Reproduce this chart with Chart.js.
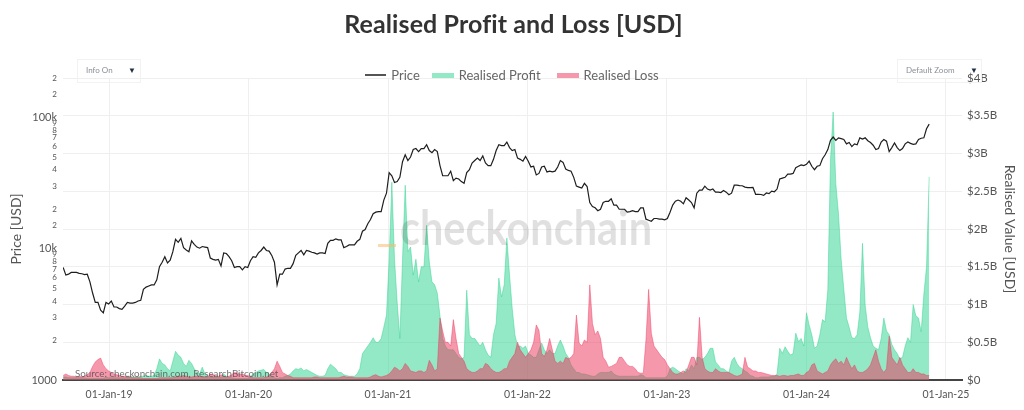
<!DOCTYPE html>
<html>
<head>
<meta charset="utf-8">
<script src="https://cdn.jsdelivr.net/npm/chart.js@4.4.1/dist/chart.umd.min.js"></script>
<style>
  html,body{margin:0;padding:0;background:#fff;}
  #wrap{position:relative;width:1024px;height:410px;overflow:hidden;font-family:Lato,"Open Sans",sans-serif;}
  #title{position:absolute;left:0;top:8px;width:1027px;text-align:center;font-weight:700;font-size:25px;color:#333;letter-spacing:0.1px;}
  #legend{position:absolute;top:67px;left:0;width:1024px;display:flex;justify-content:center;align-items:center;font-size:13px;color:#666;}
  #legend .it{display:flex;align-items:center;margin:0 6px;}
  #legend .ln{width:21px;height:2px;background:#555;margin-right:5px;}
  #legend .bx{width:22px;height:5px;margin-right:5px;}
  .dd{position:absolute;top:59px;height:22px;border:1px solid #f2f2f2;font-size:8px;color:#8a8f98;line-height:20px;}
  .dd span.a{position:absolute;color:#1f2d45;font-size:8px;}
  canvas{position:absolute;left:0;top:0;}
</style>
</head>
<body>
<div id="wrap">
  <canvas id="c" width="1024" height="410"></canvas>
  <div id="title">Realised Profit and Loss [USD]</div>
  <div id="legend">
    <div class="it"><div class="ln"></div>Price</div>
    <div class="it"><div class="bx" style="background:rgba(40,210,140,0.5)"></div>Realised Profit</div>
    <div class="it" style="margin-left:10px"><div class="bx" style="background:rgba(238,50,90,0.5)"></div>Realised Loss</div>
  </div>
  <div class="dd" style="left:77px;width:62px;"><span style="position:absolute;left:8px;">Info On</span><span class="a" style="left:50px;">&#9660;</span></div>
  <div class="dd" style="left:897px;width:83px;"><span style="position:absolute;left:8px;">Default Zoom</span><span class="a" style="left:72px;">&#9660;</span></div>
</div>
<script>
// Weekly observations (Mondays) starting at this date
const START_DATE = '2018-09-03';
const STEP_DAYS = 7;

// BTC price [USD], one row per month
const PRICE = [
  // 2018 Sep-Dec
  7200, 6300, 6400, 6600,
  6600, 6600, 6500, 6450, 6350,
  6400, 5600, 4600, 3900,
  3900, 3400, 3250, 3900, 3800,
  // 2019
  4000, 3600, 3600, 3500,
  3450, 3650, 3900, 3850,
  3850, 3900, 4000, 4050,
  4900, 5100, 5200, 5300, 5300,
  5800, 7300, 7900, 8700,
  7800, 8200, 9500, 11800,
  11200, 12000, 10200, 9800, 9500,
  11500, 10800, 10300, 10100,
  10400, 10300, 10200, 8500, 8300,
  8200, 8300, 7400, 9300,
  9200, 8700, 8100, 7200,
  7300, 7300, 6900, 7300, 7200,
  // 2020
  8100, 8700, 8600, 9300,
  9700, 10300, 9700, 9600,
  8900, 7900, 5300, 6400, 6400,
  7000, 7100, 7100, 7700,
  8900, 9300, 9700, 9000,
  9700, 9600, 9400, 9300, 9100,
  9300, 9300, 9200, 11000,
  11600, 11600, 11900, 11700, 11700,
  10200, 10400, 10700, 10700,
  10700, 11400, 11800, 13600,
  14000, 15500, 16700, 18500, 19000,
  19200, 19200, 23500, 26500,
  // 2021
  38000, 36000, 32000, 32500,
  35000, 46000, 52000, 47000,
  50000, 57000, 58000, 55000, 58000,
  58000, 62000, 56000, 54000,
  57000, 55000, 43000, 36000, 36000,
  36000, 39000, 33000, 34500,
  34000, 32500, 31500, 38000,
  40000, 45000, 47000, 49000, 47000,
  51000, 45000, 43000, 43000,
  48000, 56000, 62000, 61000,
  61000, 65000, 59000, 56000, 57000,
  49000, 48000, 46500, 50500,
  // 2022
  46500, 42000, 42500, 36500, 37500,
  42000, 42500, 38500, 39000,
  38500, 39000, 42000, 47000,
  45500, 40500, 39500, 39000,
  35000, 30000, 29500, 29000, 31500,
  29800, 22500, 21000, 20500,
  19500, 20000, 22500, 23000,
  23000, 24000, 21500, 21500, 20000,
  20000, 20000, 19000, 19200,
  19500, 19200, 19200, 20500, 20500,
  16800, 16500, 16200, 17000,
  17000, 16800, 16800, 16600,
  // 2023
  17000, 19000, 21500, 23000, 23500,
  23000, 22000, 24500, 23500,
  22500, 20500, 26500, 28000,
  28000, 30000, 28500, 28000,
  28500, 27000, 27000, 26800, 27800,
  27000, 25800, 26500, 30500,
  30500, 30300, 30200, 29500, 29200,
  29200, 29300, 26000, 26000,
  25900, 25500, 26600, 26300,
  27500, 27200, 28500, 34000, 34500,
  35000, 37000, 37000, 37500,
  41500, 42500, 43500, 43000,
  // 2024
  44000, 46500, 42500, 40000, 42500,
  43000, 48500, 52000, 57000,
  67000, 71000, 67000, 70000,
  69000, 68000, 63000, 64500, 60000,
  63000, 62000, 70000, 68500,
  70000, 66500, 64500, 61500,
  57000, 58000, 65000, 68000, 66000,
  55000, 59000, 64000, 59000,
  56000, 58000, 63000, 65000, 63500,
  62500, 63000, 68000, 69500,
  70000, 82000, 89000
];

// Realised Profit [billion USD]
const PROFIT_B = [
  // 2018 Sep-Dec
  0.04, 0.04, 0.03, 0.03,
  0.03, 0.03, 0.03, 0.03, 0.03,
  0.02, 0.02, 0.02, 0.02,
  0.02, 0.02, 0.02, 0.04, 0.03,
  // 2019
  0.03, 0.03, 0.03, 0.03,
  0.03, 0.03, 0.05, 0.05,
  0.04, 0.04, 0.04, 0.05,
  0.05, 0.06, 0.05, 0.05, 0.06,
  0.15, 0.28, 0.22, 0.20,
  0.15, 0.12, 0.25, 0.38,
  0.33, 0.30, 0.22, 0.18, 0.26,
  0.22, 0.15, 0.10, 0.08,
  0.17, 0.08, 0.05, 0.04, 0.04,
  0.04, 0.04, 0.03, 0.08,
  0.05, 0.04, 0.03, 0.02,
  0.02, 0.02, 0.02, 0.02, 0.02,
  // 2020
  0.05, 0.08, 0.10, 0.12,
  0.13, 0.14, 0.10, 0.08,
  0.04, 0.03, 0.02, 0.03, 0.03,
  0.05, 0.06, 0.08, 0.12,
  0.15, 0.14, 0.16, 0.12,
  0.14, 0.12, 0.10, 0.08, 0.06,
  0.05, 0.05, 0.06, 0.15,
  0.21, 0.18, 0.15, 0.10, 0.10,
  0.07, 0.06, 0.05, 0.05,
  0.05, 0.08, 0.15, 0.35,
  0.40, 0.45, 0.50, 0.56, 0.50,
  0.50, 0.55, 0.70, 0.86,
  // 2021
  1.60, 2.62, 1.60, 1.03,
  0.55, 1.60, 2.58, 1.70,
  1.76, 1.39, 1.60, 1.30, 1.50,
  1.50, 2.05, 1.57, 1.30,
  1.26, 1.15, 0.85, 0.55, 0.45,
  0.40, 0.40, 0.40, 0.35,
  0.30, 0.28, 0.30, 1.19,
  0.60, 0.55, 0.55, 0.50, 0.45,
  0.50, 0.40, 0.33, 0.30,
  0.60, 0.75, 1.35, 1.10,
  1.26, 1.88, 1.39, 0.95, 0.60,
  0.45, 0.45, 0.42, 0.45,
  // 2022
  0.35, 0.33, 0.30, 0.30, 0.40,
  0.49, 0.40, 0.35, 0.40,
  0.35, 0.35, 0.45, 0.53,
  0.45, 0.35, 0.30, 0.20,
  0.15, 0.10, 0.10, 0.08, 0.08,
  0.07, 0.06, 0.05, 0.05,
  0.08, 0.10, 0.10, 0.10,
  0.10, 0.12, 0.08, 0.06, 0.05,
  0.05, 0.05, 0.05, 0.05,
  0.05, 0.05, 0.05, 0.07, 0.06,
  0.03, 0.03, 0.03, 0.03,
  0.03, 0.03, 0.03, 0.03,
  // 2023
  0.05, 0.15, 0.17, 0.15, 0.12,
  0.10, 0.08, 0.15, 0.12,
  0.20, 0.15, 0.30, 0.30,
  0.27, 0.30, 0.35, 0.42,
  0.42, 0.24, 0.20, 0.15, 0.15,
  0.12, 0.10, 0.25, 0.30,
  0.22, 0.17, 0.15, 0.12, 0.10,
  0.06, 0.05, 0.03, 0.03,
  0.04, 0.04, 0.04, 0.04,
  0.05, 0.05, 0.08, 0.42, 0.35,
  0.44, 0.38, 0.33, 0.35,
  0.62, 0.51, 0.55, 0.45,
  // 2024
  0.89, 0.73, 0.60, 0.42, 0.45,
  0.60, 0.80, 0.77, 1.20,
  2.91, 3.55, 2.60, 2.20,
  1.60, 1.20, 0.82, 0.70, 0.56,
  0.55, 0.60, 0.90, 1.81,
  0.99, 0.70, 0.56, 0.45,
  0.42, 0.40, 0.55, 0.82, 0.65,
  0.60, 0.47, 0.40, 0.35,
  0.28, 0.30, 0.45, 0.56, 0.50,
  1.00, 0.85, 0.82, 0.64,
  1.14, 1.50, 2.69
];

// Realised Loss [billion USD]
const LOSS_B = [
  // 2018 Sep-Dec
  0.06, 0.08, 0.06, 0.05,
  0.05, 0.04, 0.05, 0.04, 0.05,
  0.07, 0.10, 0.18, 0.24,
  0.27, 0.29, 0.20, 0.15, 0.12,
  // 2019
  0.10, 0.08, 0.07, 0.06,
  0.05, 0.05, 0.04, 0.04,
  0.03, 0.03, 0.03, 0.03,
  0.02, 0.02, 0.02, 0.02, 0.02,
  0.02, 0.03, 0.03, 0.03,
  0.03, 0.03, 0.03, 0.04,
  0.05, 0.05, 0.06, 0.05, 0.04,
  0.04, 0.05, 0.05, 0.05,
  0.04, 0.04, 0.04, 0.08, 0.07,
  0.06, 0.05, 0.07, 0.05,
  0.04, 0.05, 0.07, 0.10,
  0.09, 0.08, 0.08, 0.06, 0.06,
  // 2020
  0.04, 0.03, 0.03, 0.03,
  0.03, 0.03, 0.04, 0.06,
  0.10, 0.15, 0.25, 0.18, 0.10,
  0.08, 0.06, 0.05, 0.03,
  0.03, 0.03, 0.03, 0.03,
  0.03, 0.03, 0.03, 0.04, 0.04,
  0.03, 0.03, 0.03, 0.03,
  0.03, 0.03, 0.03, 0.03, 0.04,
  0.05, 0.04, 0.04, 0.04,
  0.03, 0.03, 0.03, 0.03,
  0.03, 0.03, 0.04, 0.06, 0.07,
  0.05, 0.04, 0.05, 0.06,
  // 2021
  0.08, 0.12, 0.17, 0.15,
  0.12, 0.15, 0.22, 0.18,
  0.12, 0.11, 0.10, 0.12, 0.12,
  0.10, 0.12, 0.26, 0.20,
  0.12, 0.15, 0.82, 0.65, 0.50,
  0.50, 0.45, 0.80, 0.55,
  0.35, 0.30, 0.25, 0.15,
  0.12, 0.10, 0.10, 0.12, 0.15,
  0.15, 0.22, 0.20, 0.15,
  0.12, 0.10, 0.10, 0.12,
  0.15, 0.15, 0.25, 0.30, 0.35,
  0.50, 0.40, 0.35, 0.30,
  // 2022
  0.35, 0.40, 0.50, 0.73, 0.66,
  0.35, 0.31, 0.40, 0.55,
  0.40, 0.25, 0.22, 0.25,
  0.22, 0.30, 0.28, 0.30,
  0.35, 0.86, 0.49, 0.45, 0.53,
  0.50, 1.26, 0.75, 0.60,
  0.65, 0.55, 0.30, 0.25,
  0.17, 0.18, 0.20, 0.22, 0.30,
  0.30, 0.25, 0.20, 0.18,
  0.18, 0.15, 0.10, 0.09, 0.09,
  0.53, 1.20, 0.62, 0.45,
  0.40, 0.35, 0.30, 0.27,
  // 2023
  0.20, 0.15, 0.10, 0.08, 0.08,
  0.10, 0.12, 0.10, 0.20,
  0.30, 0.30, 0.20, 0.83,
  0.30, 0.15, 0.12, 0.10,
  0.10, 0.15, 0.12, 0.10, 0.10,
  0.10, 0.10, 0.08, 0.06,
  0.05, 0.06, 0.08, 0.30, 0.17,
  0.15, 0.12, 0.12, 0.10,
  0.10, 0.09, 0.08, 0.07,
  0.06, 0.06, 0.06, 0.05, 0.06,
  0.06, 0.05, 0.06, 0.06,
  0.07, 0.08, 0.06, 0.06,
  // 2024
  0.10, 0.12, 0.20, 0.22, 0.12,
  0.10, 0.08, 0.10, 0.12,
  0.20, 0.25, 0.28, 0.22,
  0.25, 0.20, 0.30, 0.22, 0.15,
  0.20, 0.12, 0.10, 0.10,
  0.12, 0.15, 0.20, 0.30,
  0.40, 0.25, 0.15, 0.10, 0.15,
  0.58, 0.30, 0.25, 0.20,
  0.30, 0.20, 0.15, 0.10, 0.10,
  0.15, 0.10, 0.10, 0.08,
  0.08, 0.06, 0.06
];

const X_TICKS = [2019, 2020, 2021, 2022, 2023, 2024, 2025];
const X_MIN = 2018.670, X_MAX = 2025.115;

function decimalYear(d) {
  const y = d.getUTCFullYear();
  const a = Date.UTC(y, 0, 1), b = Date.UTC(y + 1, 0, 1);
  return y + (d.getTime() - a) / (b - a);
}
const t0 = new Date(START_DATE + 'T00:00:00Z').getTime();
const xs = PRICE.map((_, i) => decimalYear(new Date(t0 + i * STEP_DAYS * 86400000)));

const FONT = 'Lato, "Open Sans", sans-serif';

const watermark = {
  id: 'watermark',
  afterDatasetsDraw(chart) {
    const ctx = chart.ctx;
    ctx.save();
    ctx.font = 'bold 48px ' + FONT;
    const w = ctx.measureText('checkonchain').width;
    ctx.translate(400, 245);
    ctx.scale(252 / w, 1);
    ctx.fillStyle = 'rgba(0,0,0,0.12)';
    ctx.textBaseline = 'alphabetic';
    ctx.fillText('checkonchain', 0, 0);
    ctx.restore();
    ctx.save();
    ctx.fillStyle = 'rgba(250,185,110,0.55)';
    ctx.fillRect(378, 244, 18, 3);
    ctx.font = '9.8px ' + FONT;
    ctx.fillStyle = 'rgba(70,70,70,0.75)';
    ctx.fillText('Source: checkonchain.com, ResearchBitcoin.net', 75, 377);
    ctx.restore();
  }
};

new Chart(document.getElementById('c'), {
  type: 'line',
  data: {
    datasets: [
      {
        label: 'Price',
        data: xs.map((x, i) => ({ x, y: PRICE[i] })),
        yAxisID: 'y', borderColor: '#1e1e1e', borderWidth: 1.2,
        pointRadius: 0, fill: false, tension: 0, order: 1
      },
      {
        label: 'Realised Loss',
        data: xs.map((x, i) => ({ x, y: LOSS_B[i] * 1e9 })),
        yAxisID: 'y1', borderColor: 'rgba(238,50,90,0.55)', borderWidth: 0.8,
        backgroundColor: 'rgba(238,50,90,0.5)', pointRadius: 0, fill: 'origin', tension: 0, order: 2
      },
      {
        label: 'Realised Profit',
        data: xs.map((x, i) => ({ x, y: PROFIT_B[i] * 1e9 })),
        yAxisID: 'y1', borderColor: 'rgba(40,210,140,0.55)', borderWidth: 0.8,
        backgroundColor: 'rgba(40,210,140,0.5)', pointRadius: 0, fill: 'origin', tension: 0, order: 3
      }
    ]
  },
  options: {
    responsive: false, animation: false, devicePixelRatio: 1,
    layout: { padding: { top: 78, left: 0, right: 0, bottom: 0 } },
    plugins: { legend: { display: false }, title: { display: false }, tooltip: { enabled: false } },
    scales: {
      x: {
        type: 'linear', min: X_MIN, max: X_MAX,
        afterBuildTicks: s => { s.ticks = X_TICKS.map(v => ({ value: v })); },
        afterFit: s => { s.height = 30; },
        ticks: {
          autoSkip: false, maxRotation: 0, padding: 8, color: '#555',
          font: { size: 10.5, family: FONT },
          callback: v => '01-Jan-' + String(v).slice(2)
        },
        grid: { color: '#efefef', drawTicks: false },
        border: { color: '#444', width: 2 }
      },
      y: {
        type: 'logarithmic', position: 'left', min: 1000, max: 200000,
        afterFit: s => { s.width = 63; },
        ticks: {
          autoSkip: false, padding: 6, color: '#555',
          font: ctx => {
            const v = ctx.tick ? ctx.tick.value : 0;
            const major = [1000, 10000, 100000].includes(v);
            return { size: major ? 11 : 8, family: FONT };
          },
          callback: v => {
            if (v === 1000) return '1000';
            if (v === 10000) return '10k';
            if (v === 100000) return '100k';
            const p = Math.pow(10, Math.floor(Math.log10(v) + 1e-9));
            return String(Math.round(v / p));
          }
        },
        grid: { display: false, drawTicks: false },
        border: { display: false },
        title: { display: true, text: 'Price [USD]', color: '#555', font: { size: 14, family: FONT }, padding: { top: 8, bottom: 0 } }
      },
      y1: {
        type: 'linear', position: 'right', min: 0, max: 4e9,
        afterFit: s => { s.width = 62; },
        ticks: {
          stepSize: 5e8, padding: 5, color: '#555',
          font: { size: 11.5, family: FONT },
          callback: v => v === 0 ? '$0' : '$' + (v / 1e9) + 'B'
        },
        grid: { color: '#efefef', drawTicks: false },
        border: { display: false },
        title: { display: true, text: 'Realised Value [USD]', color: '#555', font: { size: 14, family: FONT }, padding: { top: 6, bottom: 0 } }
      }
    }
  },
  plugins: [watermark]
});
</script>
</body>
</html>
